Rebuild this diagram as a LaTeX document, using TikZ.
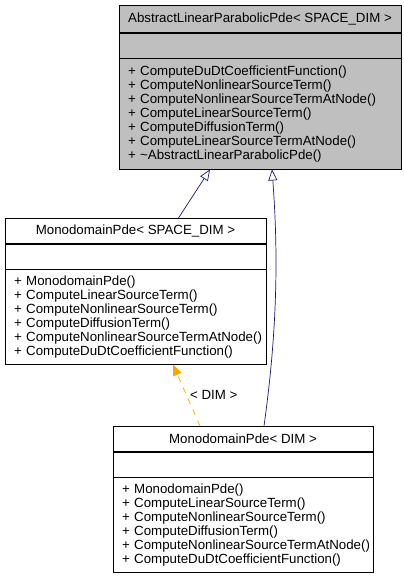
\documentclass[tikz,border=0pt]{standalone}
\usepackage{fontspec}
\setmainfont{Liberation Sans}
\usepackage{tikz}
\usetikzlibrary{calc}
\usetikzlibrary{positioning,arrows.meta}
\definecolor{edgeblue}{HTML}{191970}
\definecolor{tplorange}{HTML}{FFA500}
\definecolor{basegray}{HTML}{BFBFBF}

\begin{document}
\begin{tikzpicture}[x=1pt,y=1pt,line width=0.7pt,
    classtitle/.style={draw, minimum height=25pt, inner sep=0pt, font=\fontsize{13.3}{14}\selectfont},
    classattr/.style={draw, minimum height=25pt, inner sep=0pt},
    classops/.style={draw, align=left, inner xsep=9pt, inner ysep=6pt, font={\fontsize{13.3}{14}\selectfont\hyphenpenalty=10000}},
    inherit/.style={edgeblue, -{Triangle[open,length=11pt,width=9pt]}},
    tplinst/.style={tplorange, dash pattern=on 6pt off 6pt, -{Triangle[length=11pt,width=9pt]}}]
    \useasboundingbox (0,0) rectangle (404,-576);
    % base class
    \node[classtitle, fill=basegray, minimum width=282pt, minimum height=27pt, anchor=north] (abstractTitle) at (260,-5) {AbstractLinearParabolicPde< SPACE\_DIM >};
    \node[classattr, fill=basegray, minimum width=282pt, below=0pt of abstractTitle] (abstractAttr) {};
    \node[classops, fill=basegray, text width=264pt, inner ysep=7pt, below=0pt of abstractAttr] (abstractOps) {+~ComputeDuDtCoefficientFunction()\\+~ComputeNonlinearSourceTerm()\\+~ComputeNonlinearSourceTermAtNode()\\+~ComputeLinearSourceTerm()\\+~ComputeDiffusionTerm()\\+~ComputeLinearSourceTermAtNode()\\+~\textasciitilde AbstractLinearParabolicPde()};
    % template
    \node[classtitle, minimum width=261pt, anchor=north] (monoSpaceTitle) at (135.5,-218) {MonodomainPde< SPACE\_DIM >};
    \node[classattr, minimum width=261pt, below=0pt of monoSpaceTitle] (monoSpaceAttr) {};
    \node[classops, text width=243pt, below=0pt of monoSpaceAttr] (monoSpaceOps) {+~MonodomainPde()\\+~ComputeLinearSourceTerm()\\+~ComputeNonlinearSourceTerm()\\+~ComputeDiffusionTerm()\\+~ComputeNonlinearSourceTermAtNode()\\+~ComputeDuDtCoefficientFunction()};
    % instance
    \node[classtitle, minimum width=260pt, anchor=north] (monoDimTitle) at (243,-426) {MonodomainPde< DIM >};
    \node[classattr, minimum width=260pt, below=0pt of monoDimTitle] (monoDimAttr) {};
    \node[classops, text width=242pt, below=0pt of monoDimAttr] (monoDimOps) {+~MonodomainPde()\\+~ComputeLinearSourceTerm()\\+~ComputeNonlinearSourceTerm()\\+~ComputeDiffusionTerm()\\+~ComputeNonlinearSourceTermAtNode()\\+~ComputeDuDtCoefficientFunction()};
    % edges
    \draw[inherit] ($(monoSpaceTitle.north)+(43,0)$) -- ($(abstractOps.south)+(-50,0)$);
    \draw[inherit] ($(monoDimTitle.north)+(21,0)$) .. controls +(14,100) and +(6,-80) .. ($(abstractOps.south)+(12,0)$);
    \draw[tplinst] ($(monoDimTitle.north)+(-43,0)$) -- node[right, black, font=\fontsize{13.3}{14}\selectfont] (dimLabel) {< DIM >} ($(monoSpaceOps.south)+(37.5,0)$);
\end{tikzpicture}
\end{document}
